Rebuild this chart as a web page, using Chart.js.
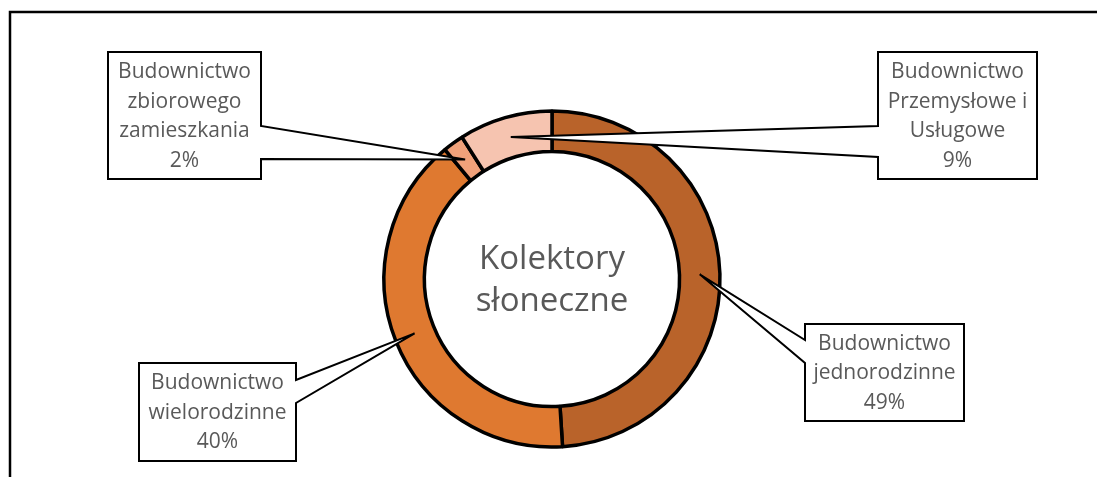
<!DOCTYPE html>
<html>
<head>
<meta charset="utf-8">
<script src="https://cdn.jsdelivr.net/npm/chart.js@4/dist/chart.umd.min.js"></script>
<style>
  html, body { margin: 0; padding: 0; background: #ffffff; }
  #wrap { width: 1097px; height: 477px; position: relative; }
</style>
</head>
<body>
<div id="wrap"><canvas id="c" width="1097" height="477"></canvas></div>
<script>
const categories = [
  ['Budownictwo', 'jednorodzinne'],
  ['Budownictwo', 'wielorodzinne'],
  ['Budownictwo', 'zbiorowego', 'zamieszkania'],
  ['Budownictwo', 'Przemysłowe i', 'Usługowe']
];
const values = [49, 40, 2, 9];
const centerTitle = ['Kolektory', 'słoneczne'];
const colors = ['#B9632A', '#DF7930', '#F0A17A', '#F6C4B0'];

// callout boxes: [x0, y0, x1, y1, side of the pointer, pointer y start, pointer y end]
const callouts = [
  {box: [805, 324, 964, 421], side: 'left',  ya: 340, yb: 363},
  {box: [139, 363, 296, 461], side: 'right', ya: 380, yb: 403},
  {box: [108, 52, 261, 179],  side: 'right', ya: 126, yb: 159},
  {box: [878, 52, 1037, 179], side: 'left',  ya: 126, yb: 157}
];

const FONT = '"Open Sans", sans-serif';
const TEXT = '#595959';

const framePlugin = {
  id: 'frame',
  beforeDraw(chart) {
    const ctx = chart.ctx;
    ctx.save();
    ctx.strokeStyle = '#000';
    ctx.lineWidth = 2.5;
    ctx.beginPath();
    ctx.moveTo(10, 477);
    ctx.lineTo(10, 12);
    ctx.lineTo(1097, 12);
    ctx.stroke();
    ctx.restore();
  }
};

const calloutPlugin = {
  id: 'callouts',
  afterDraw(chart) {
    const ctx = chart.ctx;
    const meta = chart.getDatasetMeta(0);
    const total = values.reduce((a, b) => a + b, 0);
    ctx.save();
    meta.data.forEach((arc, i) => {
      const p = arc.getProps(['x', 'y', 'startAngle', 'endAngle', 'innerRadius', 'outerRadius'], true);
      const mid = (p.startAngle + p.endAngle) / 2;
      const r = (p.innerRadius + p.outerRadius) / 2;
      const tx = p.x + Math.cos(mid) * r;
      const ty = p.y + Math.sin(mid) * r;
      const c = callouts[i];
      const [x0, y0, x1, y1] = c.box;
      ctx.beginPath();
      if (c.side === 'right') {
        ctx.moveTo(x0, y0);
        ctx.lineTo(x1, y0);
        ctx.lineTo(x1, c.ya);
        ctx.lineTo(tx, ty);
        ctx.lineTo(x1, c.yb);
        ctx.lineTo(x1, y1);
        ctx.lineTo(x0, y1);
      } else {
        ctx.moveTo(x0, y0);
        ctx.lineTo(x1, y0);
        ctx.lineTo(x1, y1);
        ctx.lineTo(x0, y1);
        ctx.lineTo(x0, c.yb);
        ctx.lineTo(tx, ty);
        ctx.lineTo(x0, c.ya);
      }
      ctx.closePath();
      ctx.fillStyle = '#ffffff';
      ctx.fill();
      ctx.lineWidth = 2;
      ctx.strokeStyle = '#000';
      ctx.lineJoin = 'miter';
      ctx.stroke();

      const lines = categories[i].concat([Math.round(values[i] / total * 100) + '%']);
      const lh = 29.5;
      const cx = (x0 + x1) / 2;
      const cy = (y0 + y1) / 2;
      ctx.fillStyle = TEXT;
      ctx.font = '21px ' + FONT;
      ctx.textAlign = 'center';
      ctx.textBaseline = 'middle';
      lines.forEach((t, k) => {
        ctx.fillText(t, cx, cy + (k - (lines.length - 1) / 2) * lh + 1);
      });
    });
    // center title
    const a0 = meta.data[0];
    ctx.fillStyle = TEXT;
    ctx.font = '33px ' + FONT;
    ctx.textAlign = 'center';
    ctx.textBaseline = 'alphabetic';
    ctx.fillText(centerTitle[0], a0.x, 269);
    ctx.fillText(centerTitle[1], a0.x, 311);
    ctx.restore();
  }
};

new Chart(document.getElementById('c'), {
  type: 'doughnut',
  data: {
    labels: categories.map(l => l.join(' ')),
    datasets: [{
      data: values,
      backgroundColor: colors,
      borderColor: '#000000',
      borderWidth: 3.5,
      hoverOffset: 0
    }]
  },
  options: {
    responsive: false,
    animation: false,
    radius: 168,
    cutout: 127,
    layout: { padding: { left: 382, right: 375, top: 110, bottom: 29 } },
    plugins: {
      legend: { display: false },
      tooltip: { enabled: false },
      title: { display: false }
    }
  },
  plugins: [framePlugin, calloutPlugin]
});
</script>
</body>
</html>
